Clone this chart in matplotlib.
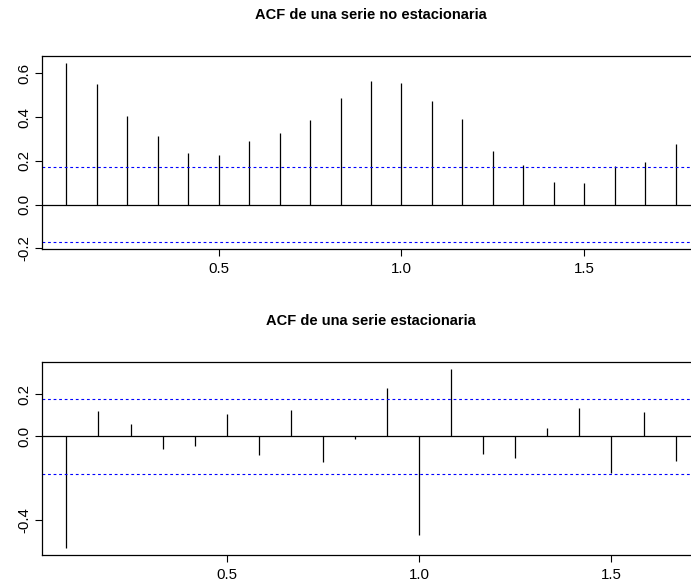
import numpy as np
import matplotlib
matplotlib.use("Agg")
import matplotlib.pyplot as plt

plt.rcParams['font.family'] = ['Liberation Sans', 'DejaVu Sans']

# ACF valores (lags en años, frecuencia 12)
acf_no_est = [0.646, 0.550, 0.404, 0.312, 0.235, 0.228, 0.291, 0.326, 0.388, 0.487,
              0.564, 0.554, 0.474, 0.390, 0.245, 0.181, 0.104, 0.097, 0.178, 0.193, 0.276]
ci_no_est = 0.171

acf_est = [-0.535, 0.119, 0.057, -0.063, -0.046, 0.108, -0.089, 0.127, -0.121, -0.011,
           0.232, -0.471, 0.319, -0.084, -0.103, 0.041, 0.137, -0.175, 0.114, -0.119]
ci_est = 0.179

titles = ["ACF de una serie no estacionaria", "ACF de una serie estacionaria"]
yticks_list = [[-0.2, 0.0, 0.2, 0.4, 0.6], [-0.4, 0.0, 0.2]]
xticks = [0.5, 1.0, 1.5]

fig = plt.figure(figsize=(6.91, 5.82), dpi=100)
W, H = 691, 582
boxes = [(42, 56, 700, 249.3), (42, 362.3, 700, 555.3)]


def acf_panel(ax, vals, ci, title, yticks):
    lags = np.arange(1, len(vals) + 1) / 12
    ax.vlines(lags, 0, vals, color='black', lw=0.9)
    ax.axhline(0, color='black', lw=0.9)
    for c in (ci, -ci):
        ax.axhline(c, color='blue', lw=0.8, linestyle=(0, (2.5, 2.5)))
    lo = min(min(vals), -ci)
    hi = max(max(vals), ci)
    pad = (hi - lo) * 0.04
    ax.set_ylim(lo - pad, hi + pad)
    xpad = (lags[-1] - lags[0]) * 0.04
    ax.set_xlim(lags[0] - xpad, lags[-1] + xpad)
    ax.set_xticks(xticks)
    ax.set_xticklabels([f"{t:.1f}" for t in xticks])
    ax.set_yticks(yticks)
    ax.set_yticklabels([f"{t:.1f}" for t in yticks], rotation=90, va='center')
    ax.tick_params(direction='out', length=5, width=0.8, labelsize=10.8)
    ax.tick_params(axis='x', pad=4)
    ax.tick_params(axis='y', pad=3)
    for s in ax.spines.values():
        s.set_linewidth(0.9)
    ax.set_title(title, fontsize=10.5, fontweight='bold', pad=26.5)


for (x0, y0, x1, y1), vals, ci, title, yt in zip(boxes, [acf_no_est, acf_est],
                                                   [ci_no_est, ci_est], titles, yticks_list):
    ax = fig.add_axes([x0 / W, 1 - y1 / H, (x1 - x0) / W, (y1 - y0) / H])
    acf_panel(ax, vals, ci, title, yt)

fig.savefig("out.png", dpi=100)
